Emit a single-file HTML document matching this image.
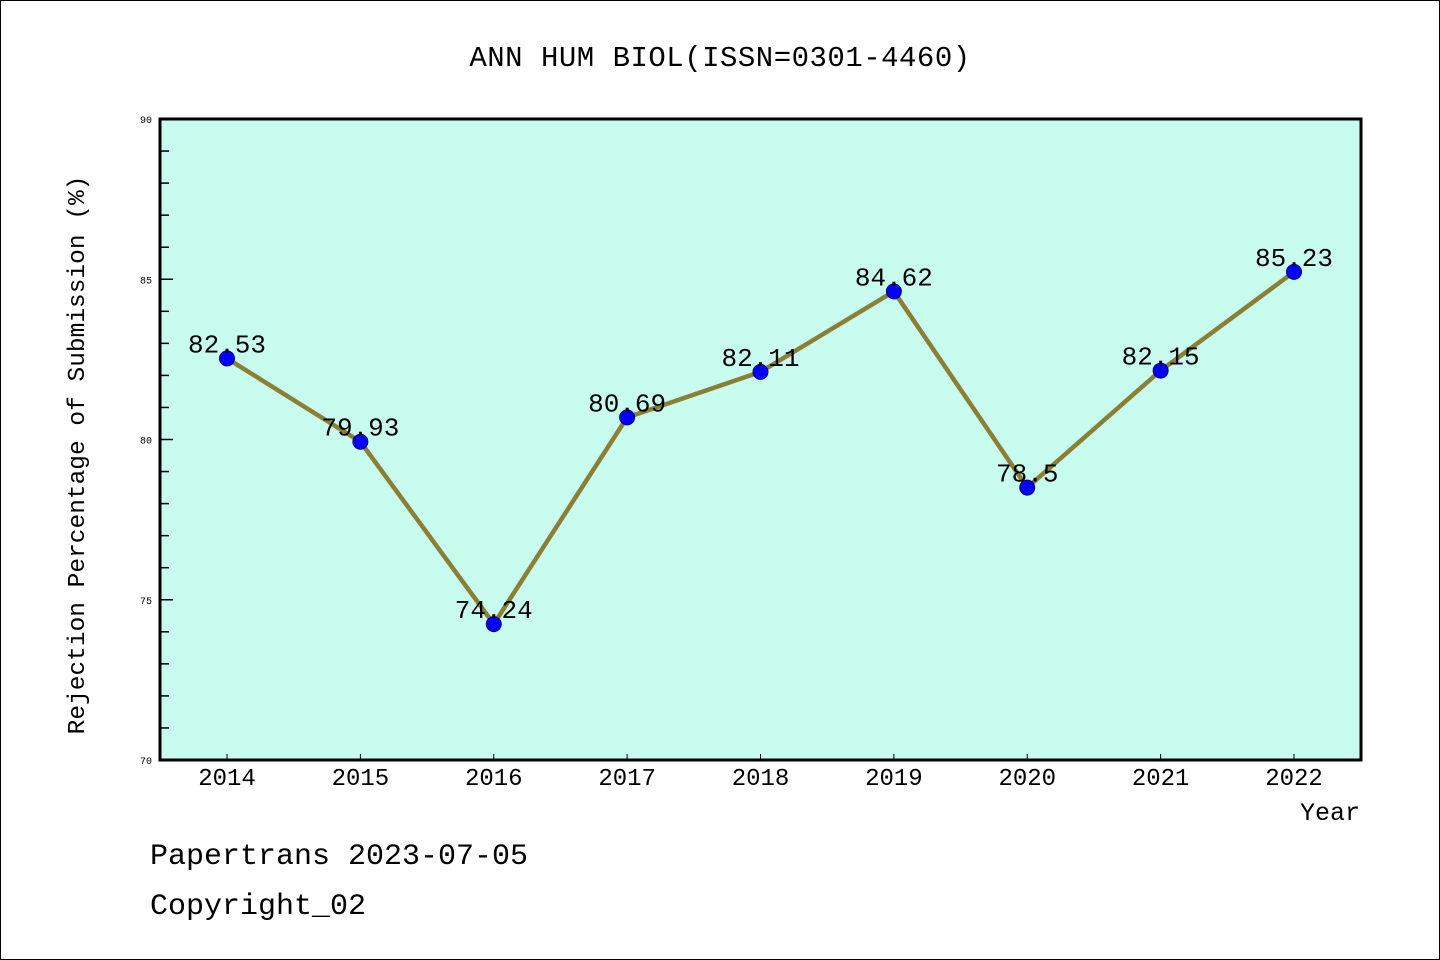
<!DOCTYPE html>
<html><head><meta charset="utf-8"><style>
html,body{margin:0;padding:0;background:#fff}
svg{display:block}
text{font-family:"Liberation Mono","WenQuanYi Zen Hei",monospace;fill:#000}
</style></head><body>
<svg id="chart" width="1440" height="960" xmlns="http://www.w3.org/2000/svg">
<rect x="0.5" y="0.5" width="1439" height="959" fill="#fff" stroke="#000" stroke-width="1"/>
<text x="720" y="66" font-size="29" text-anchor="middle" letter-spacing="0.5">ANN HUM BIOL(ISSN=0301-4460)</text>
<rect x="160" y="119" width="1201" height="641" fill="#c8fcee"/>
<g id="axes"></g>
<g id="series"></g>
<rect x="160" y="119" width="1201" height="641" fill="none" stroke="#000" stroke-width="3"/>
<text transform="translate(84,455) rotate(-90)" font-size="24.5" text-anchor="middle">Rejection Percentage of Submission (%)</text>
<text x="1360" y="820" font-size="25" text-anchor="end">Year</text>
<text x="150" y="864" font-size="30">Papertrans 2023-07-05</text>
<text x="150" y="914" font-size="30">Copyright_02</text>
</svg>
<script>
const years = ["2014","2015","2016","2017","2018","2019","2020","2021","2022"];
const rejection = [82.53,79.93,74.24,80.69,82.11,84.62,78.5,82.15,85.23];
const valueLabels = ["82.53","79.93","74.24","80.69","82.11","84.62","78.5","82.15","85.23"];
const yTicks = [70,75,80,85,90];
const yMin = 70, yMax = 90;
const NS = "http://www.w3.org/2000/svg";
const X0 = 227, X1 = 1294, YT = 119, YB = 760;
function xs(i){ return X0 + (X1 - X0) * i / (years.length - 1); }
function ys(v){ return YB - (v - yMin) / (yMax - yMin) * (YB - YT); }
function mk(tag, attrs, parent){ const e = document.createElementNS(NS, tag); for (const k in attrs) e.setAttribute(k, attrs[k]); parent.appendChild(e); return e; }
const axes = document.getElementById('axes');
for (let v = yMin + 1; v < yMax; v++) {
  const t = mk('line', {x1:160, x2: (v % 5 === 0) ? 173 : 169, y1: ys(v), y2: ys(v), stroke:'#000', 'stroke-width':1.5}, axes);
  
  
}
yTicks.forEach(v => {
  const t = mk('text', {x:152, y: ys(v) + 4, 'font-size':10, 'text-anchor':'end'}, axes);
  t.textContent = v;
  
  
});
years.forEach((y, i) => {
  const t = mk('line', {x1: xs(i), x2: xs(i), y1: 760, y2: 754, stroke:'#000', 'stroke-width':1}, axes);
  
  
  const l = mk('text', {x: xs(i), y: 785, 'font-size':24, 'text-anchor':'middle'}, axes);
  l.textContent = y;
  
  
});
const series = document.getElementById('series');
const pl = mk('polyline', {points: rejection.map((v, i) => xs(i) + ',' + ys(v)).join(' '), fill:'none', stroke:'#8a7f35', 'stroke-width':4.5, 'stroke-linejoin':'round'}, series);


rejection.forEach((v, i) => {
  const c = mk('circle', {cx: xs(i), cy: ys(v), r: 7.5, fill:'#0000ff', stroke:'#00007a', 'stroke-width':1}, series);
  
  
});
rejection.forEach((v, i) => {
  const t = mk('text', {x: xs(i), y: ys(v) - 6, 'font-size':26, 'text-anchor':'middle'}, series);
  t.textContent = valueLabels[i];
  
  
});
</script>
</body></html>
